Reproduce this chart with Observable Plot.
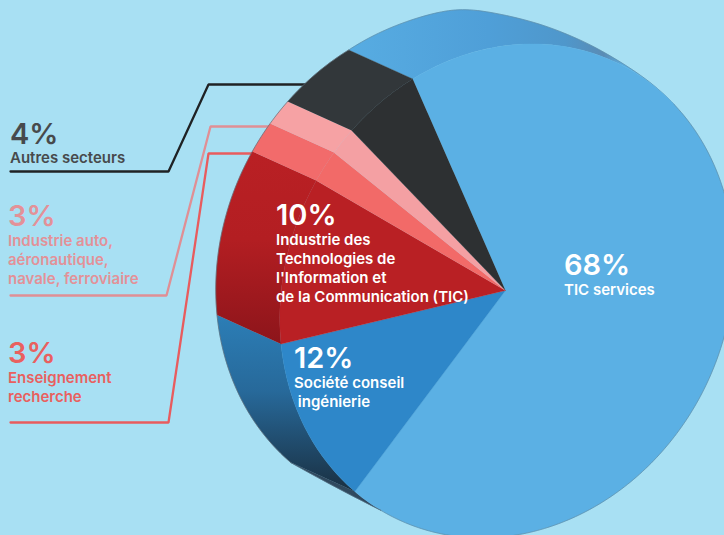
<!DOCTYPE html>
<html><head><meta charset="utf-8">
<script src="https://cdn.jsdelivr.net/npm/d3@7"></script>
<script src="https://cdn.jsdelivr.net/npm/@observablehq/plot@0.6"></script>
<style>html,body{margin:0;padding:0;background:#a8e0f3;overflow:hidden}svg{display:block}</style>
</head><body>
<script>
// Data
const categories=["TIC services","Société conseil ingénierie","Industrie des TIC","Enseignement recherche","Industrie auto","Autres secteurs"];
const percentLabels=["68%","12%","10%","3%","3%","4%"];
// share of the drawn disc that each slice occupies
const sliceShares=[68.3,11.7,10.9,2.1,1.8,5.2];
const faceColors=["#5bb0e4","#2e87c9","#b92024","#f26a68","#f4a0a3","#2d3032"];
const wallColors=["url(#wallTop)","url(#wallBlue)","url(#wallRed)","#f26b6b","#f6a2a4","#32373a"];
const labelLines=[["TIC services"],["Société conseil"," ingénierie"],["Industrie des","Technologies de","l'Information et","de la Communication (TIC)"],["Enseignement","recherche"],["Industrie auto,","aéronautique,","navale, ferroviaire"],["Autres secteurs"]];
const labelColors=["#fff","#fff","#fff","#e9605f","#e39198","#474a4c"];
// Layout
const labelX=[563.5,293.5,275.5,7.5,7.5,9.5];
const pctBaseline=[274,367,224,362,225,143];
const firstLine=[294,387,244,382,245,162];
const lineStep=19.3;
const leaders=[
 {color:"#1f2224",pts:[[10,171],[168,171],[208,84],[308,84]]},
 {color:"#e08f95",pts:[[10,295],[166,295],[210,126],[271,126]]},
 {color:"#e85c5e",pts:[[10,422],[168,422],[208,153],[254,153]]}];
// Tilted-disc projection
const H=[-93.1977,207.17553,-212.56448,-125.74479,0.00479,-0.00493];
const apex=[505,290], shift=[-64,-29];
function rim(t,d=[0,0]){const a=t*2*Math.PI/100,c=Math.cos(a),s=Math.sin(a),w=H[4]*c+H[5]*s+1;
 return {x:(H[0]*c+H[1]*s)/w+apex[0]+d[0],y:(H[2]*c+H[3]*s)/w+apex[1]+d[1]};}
const arc=(t0,t1,d)=>d3.range(0,1.0001,1/Math.max(4,Math.ceil((t1-t0)*4))).map(f=>rim(t0+(t1-t0)*f,typeof d==="function"?d(t0+(t1-t0)*f):d));
const starts=[0];sliceShares.forEach(s=>starts.push(starts[starts.length-1]+s));
const faces=sliceShares.map((s,i)=>[{x:apex[0],y:apex[1]},...arc(starts[i],starts[i+1])]);
const strip=(t0,t1,d=shift)=>[...arc(t0,t1),...arc(t0,t1,d).reverse()];
const walls=sliceShares.map((s,i)=>strip(starts[i],starts[i+1]));
// the back wall of the large slice tapers into the disc at both ends
const topEnd=20, bottomStart=66;
const topDx=d3.interpolateBasis([-64,-64,-64,-64,-65,-64,-44,-33,-27,-6,0]);
const topDy=d3.interpolateBasis([-29,-30,-31,-33,-35,-33,-27,-21,-18,-6,0]);
const topOffset=t=>[topDx(t/topEnd),topDy(t/topEnd)];
const bottomOffset=t=>{const f=(t-bottomStart)/(starts[1]-bottomStart);return [shift[0]*f,shift[1]*f];};
const textRows=[];
percentLabels.forEach((p,i)=>{
 textRows.push({t:p,x:labelX[i],y:pctBaseline[i],size:29,fill:labelColors[i]});
 labelLines[i].forEach((l,j)=>textRows.push({t:l,x:labelX[i],y:firstLine[i]+j*lineStep,size:15,fill:labelColors[i]}));
});
const defs=()=>{const g=d3.create("svg:g");g.html(`<defs>
<linearGradient id="wallTop" gradientUnits="userSpaceOnUse" x1="350" y1="0" x2="625" y2="0"><stop offset="0" stop-color="#57ace2"/><stop offset=".5" stop-color="#4f9fd8"/><stop offset=".78" stop-color="#4f97cb"/><stop offset=".92" stop-color="#5a8cb5"/><stop offset="1" stop-color="#5bb0e4"/></linearGradient>
<linearGradient id="wallBlue" gradientUnits="userSpaceOnUse" x1="0" y1="310" x2="0" y2="490"><stop offset="0" stop-color="#2c7fb8"/><stop offset=".45" stop-color="#27699a"/><stop offset="1" stop-color="#1a3042"/></linearGradient>
<linearGradient id="wallRed" gradientUnits="userSpaceOnUse" x1="0" y1="155" x2="0" y2="340"><stop offset="0" stop-color="#b92024"/><stop offset=".45" stop-color="#b31e22"/><stop offset="1" stop-color="#8e151b"/></linearGradient>
</defs>`);return g.node();};
const poly=(pts,fill)=>Plot.line(pts,{x:"x",y:"y",fill,stroke:fill,strokeWidth:0.3,curve:"linear"});
const hair=(pts,stroke)=>Plot.line(pts,{x:"x",y:"y",stroke,strokeWidth:0.7,curve:"linear"});
document.body.append(Plot.plot({width:724,height:535,margin:0,
 x:{domain:[0,724],range:[0,724],axis:null},y:{domain:[0,535],range:[0,535],axis:null},
 style:{background:"transparent"},
 marks:[
  defs,
  ...leaders.map(l=>Plot.line(l.pts,{x:d=>d[0],y:d=>d[1],stroke:l.color,strokeWidth:2.3,curve:"linear",strokeLinejoin:"miter"})),
  poly(strip(0,topEnd,topOffset),wallColors[0]),
  poly(strip(bottomStart,starts[1],bottomOffset),"#30495e"),
  ...walls.slice(1).map((w,i)=>poly(w,wallColors[i+1])),
  hair(arc(0,topEnd,topOffset),"#5f8ea8"),
  hair(arc(starts[1],100,shift),"#5f6f7a"),
  ...faces.map((f,i)=>poly(f,faceColors[i])),
  hair(arc(topEnd,bottomStart),"#5f8ea8"),
  hair(arc(bottomStart,starts[1],bottomOffset),"#4f6a7c"),
  Plot.text(textRows,{x:"x",y:"y",text:"t",fill:"fill",fontSize:"size",fontFamily:"Inter",fontWeight:600,textAnchor:"start",lineAnchor:"bottom"})
 ]}));
</script></body></html>
